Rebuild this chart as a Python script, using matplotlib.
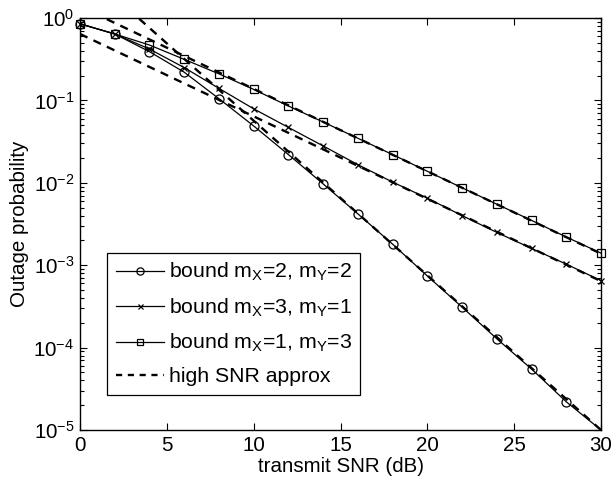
import numpy as np
import matplotlib
matplotlib.use("Agg")
import matplotlib.pyplot as plt
from matplotlib.lines import Line2D

plt.rcParams['font.family'] = ['Liberation Sans', 'DejaVu Sans']
plt.rcParams['mathtext.fontset'] = 'custom'
plt.rcParams['mathtext.rm'] = 'Liberation Sans'
plt.rcParams['mathtext.it'] = 'Liberation Sans'

# ---- data ----
snr_db = [0, 2, 4, 6, 8, 10, 12, 14, 16, 18, 20, 22, 24, 26, 28, 30]
bound_22 = [0.85, 0.64, 0.39, 0.22, 0.105, 0.049, 0.022, 0.0097, 0.0042,
            0.0018, 0.00074, 0.00031, 0.000128, 5.5e-5, 2.2e-5, 1.0e-5]
bound_31 = [0.85, 0.64, 0.42, 0.25, 0.14, 0.079, 0.047, 0.028, 0.0166,
            0.0102, 0.0065, 0.0040, 0.0025, 0.0016, 0.00103, 0.00065]
bound_13 = [0.85, 0.64, 0.47, 0.315, 0.21, 0.136, 0.0855, 0.0547, 0.0347,
            0.022, 0.0138, 0.0087, 0.0055, 0.0035, 0.0022, 0.0014]

approx_snr = [0, 30]
approx_22 = [4.27, 1.0e-5]
approx_31 = [0.64, 6.4e-4]
approx_13 = [1.38, 1.38e-3]

labels = [r'bound m$_\mathregular{X}$=2, m$_\mathregular{Y}$=2',
          r'bound m$_\mathregular{X}$=3, m$_\mathregular{Y}$=1',
          r'bound m$_\mathregular{X}$=1, m$_\mathregular{Y}$=3',
          'high SNR approx']
xticks = [0, 5, 10, 15, 20, 25, 30]
ylim = (1e-5, 1)

FS = 14.8

fig = plt.figure(figsize=(6.13, 4.83), dpi=100)
ax = fig.add_axes([80/613, 1-430/483, 521/613, 412/483])

dash = (0, (3.5, 2.8))
for ys in (approx_22, approx_31, approx_13):
    ax.semilogy(approx_snr, ys, color='black', lw=1.7, linestyle=dash)

specs = [(bound_22, 'o', 6.5), (bound_31, 'x', 4.5), (bound_13, 's', 5.5)]
handles = []
for ys, mk, ms in specs:
    ys = np.asarray(ys)
    ax.semilogy(snr_db, ys, color='black', lw=0.9)
    idx = np.flatnonzero(ys > ylim[0] * 1.0001)
    ax.semilogy(np.asarray(snr_db)[idx], ys[idx], linestyle='none', marker=mk,
                ms=ms, mfc='none', mec='black', mew=0.9, clip_on=False)
    handles.append(Line2D([], [], color='black', lw=0.9, marker=mk, ms=ms * 0.8,
                          mfc='none', mec='black', mew=0.9))
handles.append(Line2D([], [], color='black', lw=1.7, linestyle=(0, (2.6, 2.4))))

ax.set_xlim(0, 30)
ax.set_ylim(*ylim)
ax.set_xticks(xticks)
ax.tick_params(which='both', direction='in', top=True, right=True,
               labelsize=FS, width=0.8)
ax.tick_params(which='major', length=5, pad=4)
ax.tick_params(which='minor', length=3)
for s in ax.spines.values():
    s.set_linewidth(1.0)
ax.set_xlabel('transmit SNR (dB)', fontsize=FS, labelpad=1.5)
ax.set_ylabel('Outage probability', fontsize=FS, labelpad=3)

leg = ax.legend(handles, labels, loc='lower left',
                bbox_to_anchor=(0.052, 0.085), borderaxespad=0,
                fontsize=15.3, handlelength=2.3, handletextpad=0.2,
                labelspacing=0.62, borderpad=0.4, fancybox=False,
                edgecolor='black', framealpha=1)
leg.get_frame().set_linewidth(0.9)

fig.savefig('out.png', dpi=100)
